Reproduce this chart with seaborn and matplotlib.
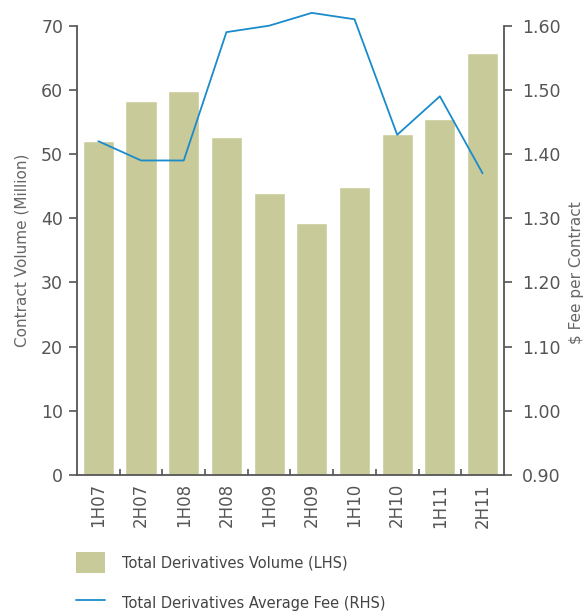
import numpy as np
import pandas as pd
import matplotlib
matplotlib.use("Agg")
import matplotlib.pyplot as plt
import seaborn as sns
from matplotlib.patches import Patch
from matplotlib.lines import Line2D

periods = ["1H07", "2H07", "1H08", "2H08", "1H09", "2H09", "1H10", "2H10", "1H11", "2H11"]
volume = [52.0, 58.2, 59.9, 52.6, 43.9, 39.2, 44.8, 53.1, 55.4, 65.8]
avg_fee = [1.42, 1.39, 1.39, 1.59, 1.60, 1.62, 1.61, 1.43, 1.49, 1.37]
left_ticks = [0, 10, 20, 30, 40, 50, 60, 70]
right_ticks = [0.90, 1.00, 1.10, 1.20, 1.30, 1.40, 1.50, 1.60]

sns.set_theme(style="white")
plt.rcParams["font.family"] = ["DejaVu Sans"]

bar_color = "#c8ca99"
line_color = "#1a8bcb"
spine_color = "#555555"
text_color = "#555555"

df = pd.DataFrame({"period": periods, "volume": volume, "fee": avg_fee})
df["pos"] = np.arange(len(df))

fig = plt.figure(figsize=(5.88, 6.12), dpi=100)
ax = fig.add_axes([0.131, 0.224, 0.726, 0.734])

sns.barplot(data=df, x="period", y="volume", color=bar_color, width=0.73,
            saturation=1, ax=ax)
ax.set_xlim(-0.5, len(periods) - 0.5)
ax.set_ylim(0, 70)
ax.set_yticks(left_ticks)
ax.set_yticklabels([str(t) for t in left_ticks])
ax.set_xlabel("")
ax.set_ylabel("Contract Volume (Million)", fontsize=11, color="#666666", labelpad=8)

ax2 = ax.twinx()
sns.lineplot(data=df, x="pos", y="fee", color=line_color, linewidth=1.3, ax=ax2)
for ln in ax2.lines:
    ln.set_clip_on(False)
ax2.set_ylim(0.90, 1.60)
ax2.set_yticks(right_ticks)
ax2.set_yticklabels([f"{t:.2f}" for t in right_ticks])
ax2.set_xlim(-0.5, len(periods) - 0.5)
ax2.set_xlabel("")
ax2.set_ylabel("$ Fee per Contract", fontsize=11, color="#666666", rotation=90, labelpad=6)
ax2.yaxis.label.set_y(0.45)

for a in (ax, ax2):
    a.spines["top"].set_visible(False)
    for s in ["left", "right", "bottom"]:
        a.spines[s].set_color(spine_color)
        a.spines[s].set_linewidth(1.3)
ax.spines["right"].set_visible(False)
ax2.spines["left"].set_visible(False)
ax2.spines["bottom"].set_visible(False)

ax.tick_params(axis="y", direction="out", length=6, width=1.2, color=spine_color,
               labelsize=12.5, labelcolor=text_color, left=True, pad=4)
ax2.tick_params(axis="y", direction="out", length=6, width=1.2, color=spine_color,
                labelsize=12.5, labelcolor=text_color, right=True, pad=7)
ax.set_xticks(np.arange(len(periods)))
ax.set_xticklabels(periods, rotation=90)
ax.tick_params(axis="x", which="major", length=0, labelsize=12, labelcolor=text_color, pad=6)
ax.set_xticks(np.arange(len(periods) - 1) + 0.5, minor=True)
ax.tick_params(axis="x", which="minor", direction="in", length=4, width=1.2,
               color=spine_color, bottom=True)

handles = [Patch(facecolor=bar_color, edgecolor="none"),
           Line2D([0], [0], color=line_color, linewidth=1.3)]
labels = ["Total Derivatives Volume (LHS)", "Total Derivatives Average Fee (RHS)"]
fig.legend(handles, labels, loc="upper left", bbox_to_anchor=(0.129, 0.098),
           frameon=False, fontsize=10.5, labelcolor="#444444",
           handlelength=2.0, handleheight=1.85, handletextpad=1.15, labelspacing=1.35,
           borderaxespad=0, borderpad=0)

fig.savefig("out.png", dpi=100)
